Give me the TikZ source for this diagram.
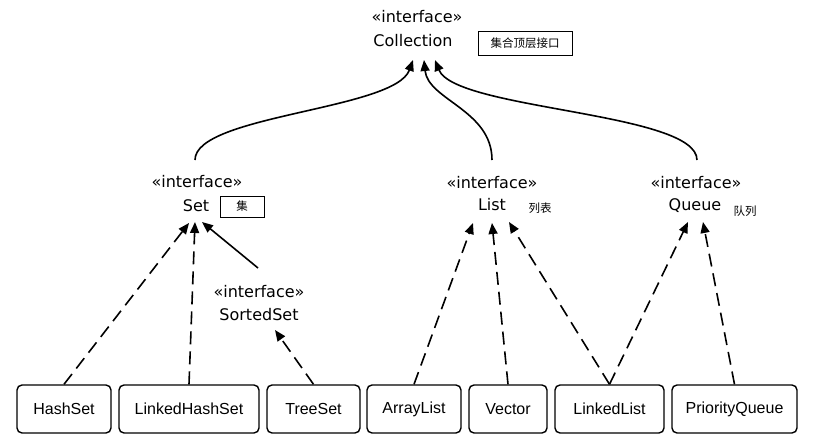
\documentclass[tikz,border=0pt]{standalone}
\usepackage{fontspec}
\usetikzlibrary{arrows.meta,calc}
\newfontfamily\boxfont{Liberation Sans}
\newfontfamily\iffont{DejaVu Sans}
\newfontfamily\cjk{Noto Sans CJK SC}
\tikzset{
  cls/.style={draw, rounded corners=5pt, line width=1.4pt, minimum height=48pt, inner sep=0pt,
    font=\boxfont\fontsize{16}{18}\selectfont},
  iflab/.style={anchor=base, inner sep=0pt, font=\iffont\fontsize{16}{18}\selectfont},
  cnlab/.style={inner sep=0pt, font=\cjk\fontsize{11.5}{13}\selectfont},
  cnbox/.style={draw, line width=0.9pt, inner sep=0pt, font=\cjk\fontsize{11.5}{13}\selectfont},
  tip/.style={-{Triangle[length=11pt,width=9pt]}},
  solidc/.style={tip, line width=1.6pt},
  dashc/.style={tip, line width=1.6pt, dash pattern=on 13pt off 7pt},
}
\begin{document}
\begin{tikzpicture}[x=1pt,y=-1pt]
\useasboundingbox[fill=white] (0,0) rectangle (815,447);

% interfaces
\node[iflab] (collI) at (417,22) {«interface»};
\node[iflab] (coll) at (413,46) {Collection};
\node[cnbox, minimum width=94pt, minimum height=24pt] (collcn) at (525,43) {集合顶层接口};

\node[iflab] (setI) at (197,187) {«interface»};
\node[iflab] (set) at (196,211) {Set};
\node[cnbox, minimum width=44pt, minimum height=21pt] (setcn) at (242,206.5) {集};

\node[iflab] (listI) at (492,188) {«interface»};
\node[iflab] (list) at (492,210) {List};
\node[cnlab] (listcn) at (540,208) {列表};

\node[iflab] (queueI) at (696,188) {«interface»};
\node[iflab] (queue) at (695,210) {Queue};
\node[cnlab] (queuecn) at (745,211) {队列};

\node[iflab] (sortedI) at (259,297) {«interface»};
\node[iflab] (sorted) at (259,320) {SortedSet};

% classes
\node[cls, minimum width=94pt] (hs) at (64,409) {HashSet};
\node[cls, minimum width=140pt] (lhs) at (189,409) {LinkedHashSet};
\node[cls, minimum width=93pt] (ts) at (313.5,409) {TreeSet};
\node[cls, minimum width=94pt] (al) at (414,409) {ArrayList};
\node[cls, minimum width=78pt] (vec) at (508,409) {Vector};
\node[cls, minimum width=109pt] (ll) at (609.5,409) {LinkedList};
\node[cls, minimum width=125pt] (pq) at (734.5,409) {PriorityQueue};

% interfaces to Collection
\draw[solidc] ($(setI.base)+(-2,-27)$) .. controls (195,115) and (395,110) .. ($(coll.base)+(0,14)$);
\draw[solidc] ($(listI.base)+(0,-28)$) .. controls (492,110) and (428,100) .. ($(coll.base)+(11,14)$);
\draw[solidc] ($(queueI.base)+(1,-28)$) .. controls (697,112) and (455,110) .. ($(coll.base)+(22,14)$);

% Set
\draw[dashc] (hs.north) -- ($(set.base)+(-7,12)$);
\draw[dashc] (lhs.north) -- ($(set.base)+(-1,11)$);
\draw[solidc] ($(sortedI.base)+(-1,-29)$) -- ($(set.base)+(6,11)$);
\draw[dashc] (ts.north) -- ($(sorted.base)+(16,10)$);

% List
\draw[dashc] (al.north) -- ($(list.base)+(-19,13)$);
\draw[dashc] (vec.north) -- ($(list.base)+(0,13)$);
\draw[dashc] (ll.north) -- ($(list.base)+(17,12)$);

% Queue
\draw[dashc] (ll.north) -- ($(queue.base)+(-7,12)$);
\draw[dashc] (pq.north) -- ($(queue.base)+(8,12)$);
\end{tikzpicture}
\end{document}
